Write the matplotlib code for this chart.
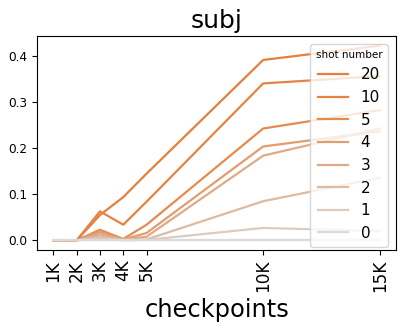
import numpy as np
import matplotlib
matplotlib.use("Agg")
import matplotlib.pyplot as plt
from matplotlib.colors import to_rgb

# checkpoints (steps) and accuracy per shot number
checkpoints = [1000, 2000, 3000, 4000, 5000, 10000, 15000]
tick_labels = ["1K", "2K", "3K", "4K", "5K", "10K", "15K"]
shots = ["20", "10", "5", "4", "3", "2", "1", "0"]

acc_20 = [0.0, 0.0, 0.055, 0.094, 0.145, 0.392, 0.423]
acc_10 = [0.0, 0.0, 0.063, 0.034, 0.084, 0.341, 0.357]
acc_5 = [0.0, 0.0, 0.023, 0.003, 0.034, 0.243, 0.283]
acc_4 = [0.0, 0.0, 0.018, 0.002, 0.016, 0.204, 0.237]
acc_3 = [0.0, 0.0, 0.013, 0.002, 0.008, 0.184, 0.243]
acc_2 = [0.0, 0.0, 0.008, 0.001, 0.002, 0.085, 0.136]
acc_1 = [0.0, 0.0, 0.004, 0.0, 0.001, 0.027, 0.020]
acc_0 = [0.0, 0.0, 0.0, 0.0, 0.0, 0.0, 0.0]
series = [acc_20, acc_10, acc_5, acc_4, acc_3, acc_2, acc_1, acc_0]

# orange -> light grey gradient
orange = np.array(to_rgb("#e5803c"))
grey = np.array(to_rgb("#dadada"))
mix = [1.0, 0.97, 0.88, 0.68, 0.53, 0.36, 0.17, 0.0]
colors = [grey + (orange - grey) * t for t in mix]

fig, ax = plt.subplots(figsize=(4.07, 3.33), dpi=100)
fig.subplots_adjust(left=0.091, right=0.973, top=0.892, bottom=0.249)

for label, ys, c in zip(shots, series, colors):
    ax.plot(checkpoints, ys, color=c, linewidth=1.6, label=label)

ax.set_xticks(checkpoints)
ax.set_xticklabels(tick_labels, rotation=90, fontsize=12.2)
ax.set_yticks([0.0, 0.1, 0.2, 0.3, 0.4])
ax.tick_params(axis="y", labelsize=8.7)
ax.set_title("subj", fontsize=18)
ax.set_xlabel("checkpoints", fontsize=17.4)
ax.legend(title="shot number", fontsize=11, title_fontsize=7.5, loc="upper right")

fig.savefig("out.png", dpi=100)
